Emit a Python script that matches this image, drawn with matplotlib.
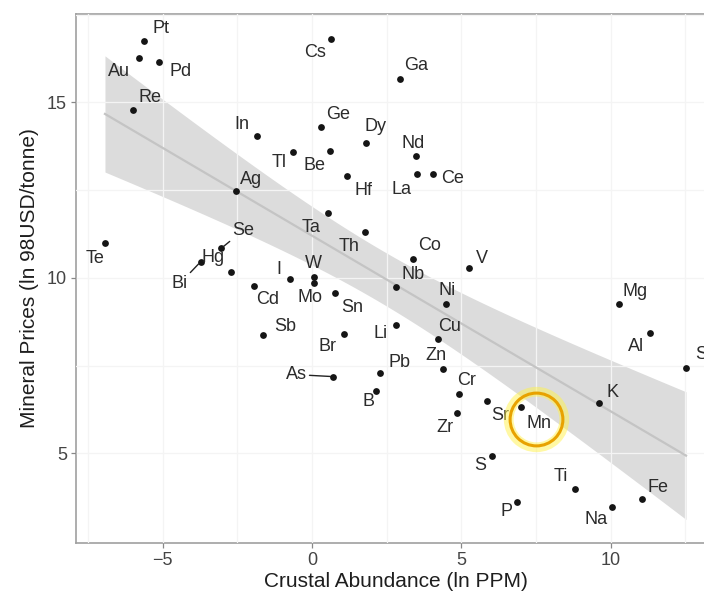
import numpy as np
import matplotlib
matplotlib.use("Agg")
import matplotlib.pyplot as plt
from matplotlib.transforms import ScaledTranslation

plt.rcParams['font.family'] = ['Liberation Sans', 'DejaVu Sans']

# ---- data (ln PPM crustal abundance, ln 98USD/tonne price) ----
elements = ["Pt", "Au", "Pd", "Re", "In", "Ag", "Cs", "Ga", "Ge", "Dy", "Tl", "Be",
            "Nd", "Hf", "La", "Ce", "Ta", "Th", "Co", "V", "I", "W", "Mo", "Nb",
            "Sn", "Ni", "Li", "Br", "Cu", "Te", "Se", "Hg", "Bi", "Cd", "Sb", "As",
            "Pb", "B", "Zn", "Cr", "Zr", "Sr", "S", "P", "Mn", "Mg", "Al", "Si",
            "K", "Ti", "Na", "Fe"]
abundance = [-5.63, -5.80, -5.12, -5.99, -1.84, -2.56, 0.63, 2.94, 0.31, 1.81, -0.65, 0.61,
             3.47, 1.18, 3.51, 4.06, 0.52, 1.78, 3.38, 5.25, -0.74, 0.07, 0.07, 2.80,
             0.76, 4.48, 2.80, 1.07, 4.21, -6.93, -3.03, -2.72, -3.73, -1.94, -1.65, 0.71,
             2.28, 2.15, 4.37, 4.93, 4.86, 5.87, 6.02, 6.87, 7.00, 10.26, 11.32, 12.52,
             9.60, 8.80, 10.05, 11.06]
price = [16.76, 16.26, 16.15, 14.79, 14.05, 12.49, 16.82, 15.67, 14.30, 13.85, 13.60, 13.61,
         13.47, 12.91, 12.95, 12.97, 11.84, 11.30, 10.55, 10.28, 9.96, 10.04, 9.85, 9.73,
         9.56, 9.26, 8.67, 8.41, 8.25, 10.99, 10.85, 10.18, 10.46, 9.77, 8.37, 7.19,
         7.29, 6.79, 7.40, 6.69, 6.16, 6.50, 4.93, 3.61, 6.33, 9.25, 8.42, 7.44,
         6.44, 3.99, 3.48, 3.70]

x_ticks = [-5, 0, 5, 10]
y_ticks = [5, 10, 15]
x_label = "Crustal Abundance (ln PPM)"
y_label = "Mineral Prices (ln 98USD/tonne)"
highlight = "Mn"

# ---- label layout: offsets in pixels (dx right, dy down) ----
label_offsets = {
    "Pt": (17, -12), "Au": (-20, 13), "Pd": (22, 9), "Re": (17, -12), "In": (-15, -11),
    "Ag": (16, -11), "Cs": (-16, 14), "Ga": (16, -13), "Ge": (17, -13), "Dy": (9, -16),
    "Tl": (-13, 11), "Be": (-16, 14), "Nd": (-3, -13), "Hf": (16, 15), "La": (-15, 15),
    "Ce": (19, 5), "Ta": (-16, 14), "Th": (-16, 14), "Co": (17, -13), "V": (13, -10),
    "I": (-11, -10), "W": (-1, -13), "Mo": (-4, 14), "Nb": (17, -13), "Sn": (17, 14),
    "Ni": (1, -13), "Li": (-15, 9), "Br": (-16, 13), "Cu": (12, -13), "Te": (-10, 15),
    "Se": (22, -18), "Hg": (-18, -14), "Bi": (-21, 22), "Cd": (14, 13), "Sb": (22, -9),
    "As": (-37, -2), "Pb": (19, -11), "B": (-8, 11), "Zn": (-7, -14), "Cr": (7, -14),
    "Zr": (-12, 15), "Sr": (13, 15), "S": (-12, 10), "P": (-11, 9), "Mn": (18, 17),
    "Mg": (17, -13), "Al": (-14, 13), "Si": (17, -13), "K": (14, -10), "Ti": (-14, -12),
    "Na": (-16, 13), "Fe": (16, -12),
}
segment_labels = {"Se", "Bi", "As"}

xa = np.array(abundance)
ya = np.array(price)

fig = plt.figure(figsize=(7.04, 5.93), dpi=100)
W, H = 704, 593
ax = fig.add_axes([76 / W, 50 / H, (715 - 76) / W, (543 - 14) / H])

# linear fit with 95% confidence band
n = len(xa)
b1, b0 = np.polyfit(xa, ya, 1)
resid = ya - (b0 + b1 * xa)
s = np.sqrt(np.sum(resid ** 2) / (n - 2))
xm = xa.mean()
sxx = np.sum((xa - xm) ** 2)
T_CRIT = 2.009
xs = np.linspace(xa.min(), xa.max(), 200)
yfit = b0 + b1 * xs
se = s * np.sqrt(1.0 / n + (xs - xm) ** 2 / sxx)
ax.fill_between(xs, yfit - T_CRIT * se, yfit + T_CRIT * se, color="#dcdcdc", lw=0, zorder=1)
ax.plot(xs, yfit, color="#c4c4c4", lw=1.6, zorder=3)

ax.set_xlim(-7.9, 13.49)
ax.set_ylim(2.45, 17.52)
ax.set_xticks(x_ticks)
ax.set_yticks(y_ticks)
ax.set_xticks([-7.5, -2.5, 2.5, 7.5, 12.5], minor=True)
ax.set_yticks([7.5, 12.5, 17.5], minor=True)
ax.grid(which="both", color="#f4f4f4", lw=0.9, zorder=2)
ax.set_axisbelow(False)
for gl in ax.get_xgridlines() + ax.get_ygridlines():
    gl.set_zorder(2)
ax.tick_params(which="minor", length=0)
ax.tick_params(which="major", length=3.5, width=0.9, color="#888888",
               labelsize=13, labelcolor="#444444", pad=3)

# points
ax.scatter(xa, ya, s=24, color="#151515", zorder=5, linewidths=0)

# labels
for name, x, y in zip(elements, xa, ya):
    dx, dy = label_offsets[name]
    ax.annotate(name, (x, y), xytext=(dx * 0.72, -dy * 0.72), textcoords="offset points",
                ha="center", va="center", fontsize=13, color="#2b2b2b", zorder=6,
                annotation_clip=False,
                arrowprops=(dict(arrowstyle="-", color="#222222", lw=1.0,
                                 shrinkA=0, shrinkB=2) if name in segment_labels else None))

# highlight circle around Mn
i = elements.index(highlight)
off = ScaledTranslation(15 / 100, -12.6 / 100, fig.dpi_scale_trans)
ax.plot([xa[i]], [ya[i]], marker="o", ms=40, mfc="none", mec="#fff24a", mew=7, alpha=0.5,
        transform=ax.transData + off, zorder=7, clip_on=False)
ax.plot([xa[i]], [ya[i]], marker="o", ms=38, mfc="none", mec="#e8a200", mew=2.2,
        transform=ax.transData + off, zorder=8, clip_on=False)

for sp in ax.spines.values():
    sp.set_color("#a0a0a0")
    sp.set_linewidth(1.2)

ax.set_xlabel(x_label, fontsize=15, color="#1e1e1e", labelpad=2)
ax.set_ylabel(y_label, fontsize=15, color="#1e1e1e", labelpad=6)

fig.savefig("out.png", dpi=100)
